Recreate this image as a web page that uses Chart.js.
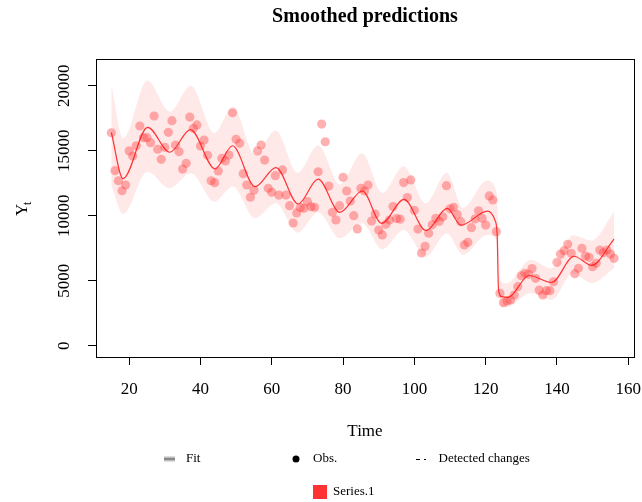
<!DOCTYPE html>
<html>
<head>
<meta charset="utf-8">
<script src="https://cdn.jsdelivr.net/npm/chart.js@4.4.1/dist/chart.umd.min.js"></script>
<style>
  html, body { margin: 0; padding: 0; background: #fff; }
</style>
</head>
<body>
<canvas id="smoothChart" width="642" height="502"></canvas>
<script>
// observations, one per time step starting at t = 15
const obsStart = 15;
const obsValues = [
  16380, 13460, 12690, 11920, 12360, 14980, 14590, 15380, 16900, 16000,
  16000, 15620, 17670, 15110, 14340, 15260, 16410, 17310, 15440, 14920,
  13590, 14030, 17590, 16720, 16980, 15360, 15820, 14650, 12690, 12540,
  13440, 14410, 14210, 14670, 17920, 15880, 15570, 13230, 12360, 11420,
  11950, 14980, 15440, 14280, 12110, 11800, 13080, 11590, 13520, 11590,
  10770, 9440, 10210, 10620, 10570, 11080, 10690, 10650, 13380, 17050,
  15690, 12280, 10260, 9670, 10770, 12950, 11900, 11130, 10000, 8980,
  12110, 11900, 12360, 9590, 10130, 8900, 8520, 9340, 9670, 10700,
  9780, 9730, 12550, 11400, 12750, 10410, 8970, 7130, 7640, 8650,
  9300, 9800, 9570, 9920, 12310, 10530, 10650, 10080, 9540, 7750,
  7950, 9080, 9750, 10380, 9800, 9280, 11520, 11210, 8770, 4030,
  3310, 3440, 3520, 3900, 4540, 5380, 5570, 5490, 5930, 5180,
  4280, 3900, 4230, 4230, 4920, 6410, 7050, 7310, 7800, 7110,
  5540, 5950, 7490, 6900, 6800, 6080, 6340, 7360, 7150, 7360,
  7050, 6720
];

// smoothed fit, read at its turning points
const fitT = [15, 18.3, 25.2, 31.4, 37.2, 44.1, 49.0, 55.3, 61.2, 67.4, 73.0, 79.1, 85.4, 90.8,
  97.1, 103.3, 109.2, 113.1, 120.5, 122.6, 123.2, 123.6, 124.5, 126.3, 132.2, 138.5, 144.8, 149.7, 156];
const fitV = [16400, 12850, 16800, 14880, 16620, 13600, 15380, 12230, 13700, 10900, 12820, 10260, 11900, 9410,
  11260, 8850, 10570, 9280, 10350, 9650, 8650, 4300, 3770, 3720, 5400, 4860, 6880, 6180, 8200];

// prediction band
const bandT = [15, 18.3, 25.1, 31.4, 37.3, 43.9, 49.1, 55.3, 61.1, 67.2, 73.0, 79.1, 85.3, 91.0,
  97.0, 103.2, 109.1, 113.6, 120.4, 123.1, 124.1, 125.8, 132.6, 138.5, 144.5, 149.7, 156];
const bandUpper = [20100, 15950, 20400, 18000, 20000, 16350, 18400, 14700, 16550, 13300, 15400, 12400, 14800, 11750,
  13800, 10950, 13300, 10600, 12700, 11700, 5000, 4800, 6600, 5950, 8500, 8100, 10300];
const bandLower = [12300, 10130, 13380, 12110, 13260, 11080, 12250, 9800, 10950, 8700, 10250, 8260, 9420, 7420,
  8900, 6850, 8650, 7000, 8520, 8130, 3100, 2950, 4030, 3520, 5570, 4800, 5950];

const xTicks = [20, 40, 60, 80, 100, 120, 140, 160];
const yTicks = [0, 5000, 10000, 15000, 20000];

const serif = '"Liberation Serif", "Times New Roman", serif';

const toPts = (xs, ys) => xs.map((x, i) => ({ x: x, y: ys[i] }));

// R style box, titles and the legend under the plot
const rDecor = {
  id: 'rDecor',
  afterDraw(chart) {
    const { ctx, chartArea: a } = chart;
    ctx.save();
    ctx.strokeStyle = '#000';
    ctx.lineWidth = 1;
    ctx.strokeRect(a.left + 0.5, a.top + 0.5, a.right - a.left, a.bottom - a.top);

    ctx.fillStyle = '#000';
    ctx.textBaseline = 'middle';
    ctx.textAlign = 'center';
    ctx.font = 'bold 20px ' + serif;
    ctx.fillText('Smoothed predictions', (a.left + a.right) / 2, 17);
    ctx.font = '17px ' + serif;
    ctx.fillText('Time', (a.left + a.right) / 2, 432);

    // y axis title Y with subscript t
    ctx.save();
    ctx.translate(27, 216);
    ctx.rotate(-Math.PI / 2);
    ctx.textAlign = 'left';
    ctx.textBaseline = 'alphabetic';
    ctx.font = '17px ' + serif;
    ctx.fillText('Y', 0, 0);
    ctx.font = '12px ' + serif;
    ctx.fillText('t', 11, 4);
    ctx.restore();

    // legend row 1
    ctx.font = '13px ' + serif;
    ctx.textAlign = 'left';
    ctx.fillStyle = '#bebebe';
    ctx.fillRect(164, 456.5, 11, 5);
    ctx.strokeStyle = '#777';
    ctx.lineWidth = 1.5;
    ctx.beginPath(); ctx.moveTo(164, 459); ctx.lineTo(175, 459); ctx.stroke();
    ctx.fillStyle = '#000';
    ctx.fillText('Fit', 186, 459);

    ctx.beginPath(); ctx.arc(296, 459, 3.5, 0, Math.PI * 2); ctx.fill();
    ctx.fillText('Obs.', 313, 459);

    ctx.strokeStyle = '#000';
    ctx.lineWidth = 1;
    ctx.setLineDash([4, 4]);
    ctx.beginPath(); ctx.moveTo(416, 459.5); ctx.lineTo(426, 459.5); ctx.stroke();
    ctx.setLineDash([]);
    ctx.fillText('Detected changes', 438.5, 459);

    // legend row 2
    ctx.fillStyle = '#ff3333';
    ctx.fillRect(313, 485, 14, 14);
    ctx.fillStyle = '#000';
    ctx.fillText('Series.1', 333, 492);
    ctx.restore();
  }
};

const ctx = document.getElementById('smoothChart').getContext('2d');
const smoothChart = new Chart(ctx, {
  type: 'scatter',
  data: {
    datasets: [
      {
        label: 'Fit',
        data: toPts(fitT, fitV),
        showLine: true,
        borderColor: 'rgba(255, 20, 20, 0.85)',
        borderWidth: 1.2,
        pointRadius: 0,
        cubicInterpolationMode: 'monotone',
        fill: false,
        order: 0
      },
      {
        label: 'Obs.',
        data: obsValues.map((v, i) => ({ x: obsStart + i, y: v })),
        backgroundColor: 'rgba(255, 60, 60, 0.4)',
        borderWidth: 0,
        pointRadius: 4.6,
        order: 1
      },
      {
        label: 'upper',
        data: toPts(bandT, bandUpper),
        showLine: true,
        borderWidth: 0,
        borderColor: 'rgba(0,0,0,0)',
        pointRadius: 0,
        cubicInterpolationMode: 'monotone',
        fill: false,
        order: 2
      },
      {
        label: 'lower',
        data: toPts(bandT, bandLower),
        showLine: true,
        borderWidth: 0,
        borderColor: 'rgba(0,0,0,0)',
        backgroundColor: 'rgba(255, 0, 0, 0.09)',
        pointRadius: 0,
        cubicInterpolationMode: 'monotone',
        fill: '-1',
        order: 3
      }
    ]
  },
  options: {
    responsive: false,
    animation: false,
    devicePixelRatio: 1,
    layout: { padding: { left: 0, right: 8, top: 59, bottom: 0 } },
    plugins: {
      legend: { display: false },
      tooltip: { enabled: false },
      filler: { drawTime: 'beforeDatasetsDraw' }
    },
    scales: {
      x: {
        type: 'linear',
        min: 10.7,
        max: 161.6,
        afterBuildTicks: s => { s.ticks = xTicks.map(v => ({ value: v })); },
        afterFit: s => { s.height = 145; s.paddingLeft = 0; s.paddingRight = 0; },
        grid: { display: true, drawOnChartArea: false, drawTicks: true, tickLength: 8, color: '#000' },
        border: { display: false },
        ticks: { color: '#000', font: { family: serif, size: 17 }, padding: 14, maxRotation: 0,
          callback: v => String(v) }
      },
      y: {
        min: -870,
        max: 22054,
        afterBuildTicks: s => { s.ticks = yTicks.map(v => ({ value: v })); },
        afterFit: s => { s.width = 96; s.paddingTop = 0; s.paddingBottom = 0; },
        grid: { display: true, drawOnChartArea: false, drawTicks: true, tickLength: 8, color: '#000' },
        border: { display: false },
        ticks: {
          color: '#000', font: { family: serif, size: 17 },
          minRotation: 90, maxRotation: 90, crossAlign: 'center', padding: 2,
          callback: v => String(v)
        }
      }
    }
  },
  plugins: [rDecor]
});
</script>
</body>
</html>
